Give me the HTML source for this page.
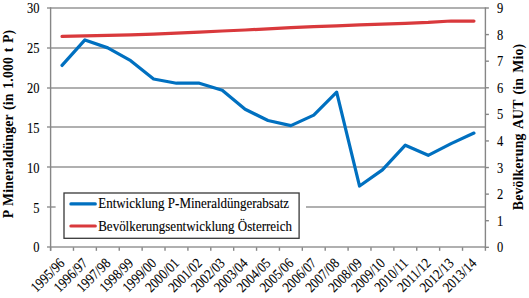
<!DOCTYPE html>
<html><head><meta charset="utf-8"><style>
html,body{margin:0;padding:0;background:#fff;}
svg{display:block;}
.t{font-family:"Liberation Serif",serif;font-size:13.3px;fill:#000;stroke:#000;stroke-width:0.1px;}
.b{font-family:"Liberation Serif",serif;font-size:13.8px;font-weight:bold;fill:#000;}
</style></head><body>
<svg width="529" height="298" viewBox="0 0 529 298">
<rect width="529" height="298" fill="#fff"/>
<line x1="47.00" y1="247.00" x2="485.40" y2="247.00" stroke="#969696" stroke-width="1.5"/>
<line x1="47.00" y1="206.95" x2="485.40" y2="206.95" stroke="#969696" stroke-width="1.5"/>
<line x1="47.00" y1="167.00" x2="485.40" y2="167.00" stroke="#969696" stroke-width="1.5"/>
<line x1="47.00" y1="127.05" x2="485.40" y2="127.05" stroke="#969696" stroke-width="1.5"/>
<line x1="47.00" y1="87.90" x2="485.40" y2="87.90" stroke="#969696" stroke-width="1.5"/>
<line x1="47.00" y1="47.95" x2="485.40" y2="47.95" stroke="#969696" stroke-width="1.5"/>
<line x1="47.00" y1="8.00" x2="485.40" y2="8.00" stroke="#969696" stroke-width="1.5"/>
<line x1="50.60" y1="7.30" x2="50.60" y2="250.80" stroke="#868686" stroke-width="1.4"/>
<line x1="485.40" y1="7.30" x2="485.40" y2="248.00" stroke="#868686" stroke-width="1.4"/>
<line x1="485.40" y1="247.30" x2="488.90" y2="247.30" stroke="#868686" stroke-width="1.4"/>
<line x1="485.40" y1="220.71" x2="488.90" y2="220.71" stroke="#868686" stroke-width="1.4"/>
<line x1="485.40" y1="194.12" x2="488.90" y2="194.12" stroke="#868686" stroke-width="1.4"/>
<line x1="485.40" y1="167.53" x2="488.90" y2="167.53" stroke="#868686" stroke-width="1.4"/>
<line x1="485.40" y1="140.94" x2="488.90" y2="140.94" stroke="#868686" stroke-width="1.4"/>
<line x1="485.40" y1="114.36" x2="488.90" y2="114.36" stroke="#868686" stroke-width="1.4"/>
<line x1="485.40" y1="87.77" x2="488.90" y2="87.77" stroke="#868686" stroke-width="1.4"/>
<line x1="485.40" y1="61.18" x2="488.90" y2="61.18" stroke="#868686" stroke-width="1.4"/>
<line x1="485.40" y1="34.59" x2="488.90" y2="34.59" stroke="#868686" stroke-width="1.4"/>
<line x1="485.40" y1="8.00" x2="488.90" y2="8.00" stroke="#868686" stroke-width="1.4"/>
<line x1="50.60" y1="247.30" x2="50.60" y2="250.80" stroke="#868686" stroke-width="1.4"/>
<line x1="73.48" y1="247.30" x2="73.48" y2="250.80" stroke="#868686" stroke-width="1.4"/>
<line x1="96.37" y1="247.30" x2="96.37" y2="250.80" stroke="#868686" stroke-width="1.4"/>
<line x1="119.25" y1="247.30" x2="119.25" y2="250.80" stroke="#868686" stroke-width="1.4"/>
<line x1="142.14" y1="247.30" x2="142.14" y2="250.80" stroke="#868686" stroke-width="1.4"/>
<line x1="165.02" y1="247.30" x2="165.02" y2="250.80" stroke="#868686" stroke-width="1.4"/>
<line x1="187.91" y1="247.30" x2="187.91" y2="250.80" stroke="#868686" stroke-width="1.4"/>
<line x1="210.79" y1="247.30" x2="210.79" y2="250.80" stroke="#868686" stroke-width="1.4"/>
<line x1="233.67" y1="247.30" x2="233.67" y2="250.80" stroke="#868686" stroke-width="1.4"/>
<line x1="256.56" y1="247.30" x2="256.56" y2="250.80" stroke="#868686" stroke-width="1.4"/>
<line x1="279.44" y1="247.30" x2="279.44" y2="250.80" stroke="#868686" stroke-width="1.4"/>
<line x1="302.33" y1="247.30" x2="302.33" y2="250.80" stroke="#868686" stroke-width="1.4"/>
<line x1="325.21" y1="247.30" x2="325.21" y2="250.80" stroke="#868686" stroke-width="1.4"/>
<line x1="348.09" y1="247.30" x2="348.09" y2="250.80" stroke="#868686" stroke-width="1.4"/>
<line x1="370.98" y1="247.30" x2="370.98" y2="250.80" stroke="#868686" stroke-width="1.4"/>
<line x1="393.86" y1="247.30" x2="393.86" y2="250.80" stroke="#868686" stroke-width="1.4"/>
<line x1="416.75" y1="247.30" x2="416.75" y2="250.80" stroke="#868686" stroke-width="1.4"/>
<line x1="439.63" y1="247.30" x2="439.63" y2="250.80" stroke="#868686" stroke-width="1.4"/>
<line x1="462.52" y1="247.30" x2="462.52" y2="250.80" stroke="#868686" stroke-width="1.4"/>
<line x1="485.40" y1="247.30" x2="485.40" y2="250.80" stroke="#868686" stroke-width="1.4"/>
<text transform="translate(39.4,252.40) scale(0.94,1.1)" text-anchor="end" class="t">0</text>
<text transform="translate(39.4,212.52) scale(0.94,1.1)" text-anchor="end" class="t">5</text>
<text transform="translate(39.4,172.63) scale(0.94,1.1)" text-anchor="end" class="t">10</text>
<text transform="translate(39.4,132.75) scale(0.94,1.1)" text-anchor="end" class="t">15</text>
<text transform="translate(39.4,92.87) scale(0.94,1.1)" text-anchor="end" class="t">20</text>
<text transform="translate(39.4,52.98) scale(0.94,1.1)" text-anchor="end" class="t">25</text>
<text transform="translate(39.4,13.10) scale(0.94,1.1)" text-anchor="end" class="t">30</text>
<text transform="translate(497.1,252.40) scale(0.94,1.1)" class="t">0</text>
<text transform="translate(497.1,225.81) scale(0.94,1.1)" class="t">1</text>
<text transform="translate(497.1,199.22) scale(0.94,1.1)" class="t">2</text>
<text transform="translate(497.1,172.63) scale(0.94,1.1)" class="t">3</text>
<text transform="translate(497.1,146.04) scale(0.94,1.1)" class="t">4</text>
<text transform="translate(497.1,119.46) scale(0.94,1.1)" class="t">5</text>
<text transform="translate(497.1,92.87) scale(0.94,1.1)" class="t">6</text>
<text transform="translate(497.1,66.28) scale(0.94,1.1)" class="t">7</text>
<text transform="translate(497.1,39.69) scale(0.94,1.1)" class="t">8</text>
<text transform="translate(497.1,13.10) scale(0.94,1.1)" class="t">9</text>
<text transform="translate(65.54,264.10) rotate(-45) scale(0.94,1.1)" text-anchor="end" class="t">1995/96</text>
<text transform="translate(88.43,264.10) rotate(-45) scale(0.94,1.1)" text-anchor="end" class="t">1996/97</text>
<text transform="translate(111.31,264.10) rotate(-45) scale(0.94,1.1)" text-anchor="end" class="t">1997/98</text>
<text transform="translate(134.19,264.10) rotate(-45) scale(0.94,1.1)" text-anchor="end" class="t">1998/99</text>
<text transform="translate(157.08,264.10) rotate(-45) scale(0.94,1.1)" text-anchor="end" class="t">1999/00</text>
<text transform="translate(179.96,264.10) rotate(-45) scale(0.94,1.1)" text-anchor="end" class="t">2000/01</text>
<text transform="translate(202.85,264.10) rotate(-45) scale(0.94,1.1)" text-anchor="end" class="t">2001/02</text>
<text transform="translate(225.73,264.10) rotate(-45) scale(0.94,1.1)" text-anchor="end" class="t">2002/03</text>
<text transform="translate(248.62,264.10) rotate(-45) scale(0.94,1.1)" text-anchor="end" class="t">2003/04</text>
<text transform="translate(271.50,264.10) rotate(-45) scale(0.94,1.1)" text-anchor="end" class="t">2004/05</text>
<text transform="translate(294.38,264.10) rotate(-45) scale(0.94,1.1)" text-anchor="end" class="t">2005/06</text>
<text transform="translate(317.27,264.10) rotate(-45) scale(0.94,1.1)" text-anchor="end" class="t">2006/07</text>
<text transform="translate(340.15,264.10) rotate(-45) scale(0.94,1.1)" text-anchor="end" class="t">2007/08</text>
<text transform="translate(363.04,264.10) rotate(-45) scale(0.94,1.1)" text-anchor="end" class="t">2008/09</text>
<text transform="translate(385.92,264.10) rotate(-45) scale(0.94,1.1)" text-anchor="end" class="t">2009/10</text>
<text transform="translate(408.81,264.10) rotate(-45) scale(0.94,1.1)" text-anchor="end" class="t">2010/11</text>
<text transform="translate(431.69,264.10) rotate(-45) scale(0.94,1.1)" text-anchor="end" class="t">2011/12</text>
<text transform="translate(454.57,264.10) rotate(-45) scale(0.94,1.1)" text-anchor="end" class="t">2012/13</text>
<text transform="translate(477.46,264.10) rotate(-45) scale(0.94,1.1)" text-anchor="end" class="t">2013/14</text>
<polyline points="62.04,36.40 84.93,35.92 107.81,35.44 130.69,34.85 153.58,34.14 176.46,33.13 199.35,32.06 222.23,31.00 245.12,30.02 268.00,28.87 290.88,27.68 313.77,26.67 336.65,25.81 359.54,24.96 382.42,24.09 405.31,23.29 428.19,22.41 451.07,20.98 473.96,21.11" fill="none" stroke="#D9393C" stroke-width="3.2" stroke-linejoin="round" stroke-linecap="round"/>
<polyline points="62.04,65.43 84.93,39.91 107.81,47.88 130.69,60.65 153.58,78.99 176.46,83.22 199.35,83.22 222.23,90.16 245.12,109.30 268.00,120.47 290.88,125.66 313.77,115.13 336.65,92.15 359.54,186.04 382.42,169.85 405.31,145.20 428.19,155.33 451.07,143.60 473.96,133.07" fill="none" stroke="#0070C0" stroke-width="3.2" stroke-linejoin="round" stroke-linecap="round"/>
<rect x="55.6" y="189" width="250.4" height="53" fill="#fff"/>
<rect x="64.0" y="193.0" width="235.1" height="45.3" fill="#fff" stroke="#383838" stroke-width="1.3"/>
<line x1="70.9" y1="203.9" x2="95.3" y2="203.9" stroke="#0070C0" stroke-width="3.2" stroke-linecap="round"/>
<line x1="70.9" y1="226.0" x2="95.3" y2="226.0" stroke="#D9393C" stroke-width="3.2" stroke-linecap="round"/>
<text transform="translate(98.2,208.4) scale(1,1.1)" class="t" style="font-size:13px">Entwicklung P-Mineraldüngerabsatz</text>
<text transform="translate(98.2,230.6) scale(1,1.1)" class="t" style="font-size:13px">Bevölkerungsentwicklung Österreich</text>
<text transform="translate(13.3,124) rotate(-90)" text-anchor="middle" class="b" style="word-spacing:1px;letter-spacing:0.15px">P Mineraldünger (in 1.000 t P)</text>
<text transform="translate(523.1,127) rotate(-90)" text-anchor="middle" class="b" style="word-spacing:1.6px;letter-spacing:0.15px">Bevölkerung AUT (in Mio)</text>
</svg>
</body></html>
